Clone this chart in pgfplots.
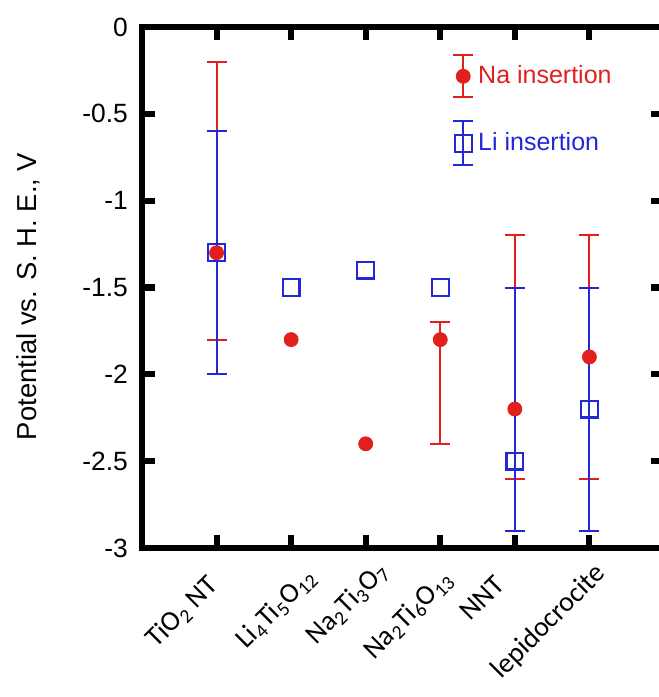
\documentclass[border=0pt]{standalone}
\usepackage{fontspec}
\setmainfont{Liberation Sans}
\newfontfamily\calfont{Carlito}
\usepackage{pgfplots}
\pgfplotsset{compat=1.18}
\definecolor{nared}{RGB}{225,32,30}
\definecolor{liblue}{RGB}{32,40,215}
% shift a tick label along (#1) and across (#2) its rotated baseline
\newcommand{\xl}[3]{\raisebox{#2}[\height][\depth]{#3}\kern-#1\relax}

% Na: x y plus minus
\pgfplotstableread{
x y ep em
1 -1.3 1.1 0.5
4 -1.8 0.1 0.6
5 -2.2 1.0 0.4
6 -1.9 0.7 0.7
}\naerr
\pgfplotstableread{
x y
2 -1.8
3 -2.4
}\naplain
\pgfplotstableread{
x y ep em
1 -1.3 0.7 0.7
5 -2.5 1.0 0.4
6 -2.2 0.7 0.7
}\lierr
\pgfplotstableread{
x y
2 -1.5
3 -1.4
4 -1.5
}\liplain

\begin{document}
\begin{tikzpicture}
\begin{axis}[
  at={(0,0)}, anchor=south west,
  scale only axis, width=261pt, height=260.5pt,
  xmin=0, xmax=7, ymin=-3, ymax=0,
  clip=false,
  axis line style={line width=2.6pt},
  tick style={line width=3pt, black},
  major tick length=6.5pt,
  tick align=inside,
  xtick pos=both, ytick pos=both,
  xtick={1,2,3,4,5,6},
  xticklabels={\xl{-5.6pt}{6.1pt}{TiO\textsubscript{2} NT},
    \xl{5.6pt}{0.5pt}{Li\textsubscript{4}Ti\textsubscript{5}O\textsubscript{12}},
    \xl{7pt}{3.5pt}{Na\textsubscript{2}Ti\textsubscript{3}O\textsubscript{7}},
    \xl{0.8pt}{4.4pt}{Na\textsubscript{2}Ti\textsubscript{6}O\textsubscript{13}},
    \xl{-9.4pt}{9.4pt}{NNT},
    \xl{4pt}{5.1pt}{lepidocrocite}},
  xticklabel style={font=\calfont\fontsize{14}{16}\selectfont, xshift=2.5pt, yshift=-8pt, rotate=45, anchor=north east},
  ytick={-3,-2.5,-2,-1.5,-1,-0.5,0},
  yticklabels={-3,-2.5,-2,-1.5,-1,-0.5,0},
  yticklabel style={font=\fontsize{13.2}{15}\selectfont, xshift=-3.5pt},
  every axis y label/.style={at={(axis description cs:-0.218,0.483)}, rotate=90, anchor=center},
  ylabel={Potential vs. S. H. E., V},
  ylabel style={font=\fontsize{13.7}{16}\selectfont},
  error bars/y dir=both, error bars/y explicit,
  legend style={draw=none, fill=none, at={(axis cs:4.155,-0.155)}, anchor=north west,
    inner sep=0pt, row sep=11pt, font=\fontsize{12.5}{15}\selectfont,
    /tikz/every even column/.append style={column sep=1pt}},
  legend cell align=left,
]
\addplot[only marks, nared, mark=*, mark size=3.5pt,
  error bars/error bar style={line width=1pt},
  error bars/error mark options={rotate=90, mark size=5pt, line width=1pt},
  legend image code/.code={
    \draw[line width=1pt, mark=none] (0pt,-10.5pt) -- (0pt,10.5pt)
      (-5pt,-10.5pt) -- (5pt,-10.5pt) (-5pt,10.5pt) -- (5pt,10.5pt);
    \draw[mark=*, mark size=3.5pt] plot coordinates {(0pt,0pt)};
  }]
  table[x=x, y=y, y error plus=ep, y error minus=em] {\naerr};
\addlegendentry{\textcolor{nared}{Na insertion}}
\addplot[only marks, nared, mark=*, mark size=3.5pt, forget plot,
  error bars/y dir=none]
  table[x=x, y=y] {\naplain};
\addplot[only marks, liblue, mark=square, mark size=4.2pt, mark options={line width=1.1pt},
  error bars/error bar style={line width=1pt},
  error bars/error mark options={rotate=90, mark size=5pt, line width=1pt},
  legend image code/.code={
    \draw[line width=1pt, mark=none] (0pt,-11pt) -- (0pt,11pt)
      (-5pt,-11pt) -- (5pt,-11pt) (-5pt,11pt) -- (5pt,11pt);
    \draw[mark=square, mark size=4.2pt, mark options={line width=1.1pt}] plot coordinates {(0pt,0pt)};
  }]
  table[x=x, y=y, y error plus=ep, y error minus=em] {\lierr};
\addlegendentry{\textcolor{liblue}{Li insertion}}
\addplot[only marks, liblue, mark=square, mark size=4.2pt, mark options={line width=1.1pt}, forget plot,
  error bars/y dir=none]
  table[x=x, y=y] {\liplain};
\end{axis}
% inward tick marks on all four sides, drawn again outside the axis scope
\foreach \i in {1,...,6} {
  \draw[line width=3pt] ({\i*261pt/7}, 0pt) -- ++(0pt, 6.5pt);
  \draw[line width=3pt] ({\i*261pt/7}, 260.5pt) -- ++(0pt, -6.5pt);
}
\foreach \j in {1,...,5} {
  \draw[line width=3pt] (0pt, {\j*260.5pt/6}) -- ++(6.5pt, 0pt);
  \draw[line width=3pt] (261pt, {\j*260.5pt/6}) -- ++(-6.5pt, 0pt);
}
\pgfresetboundingbox
\useasboundingbox (-71pt,-74.5pt) rectangle (258.5pt,274pt);
\end{tikzpicture}
\end{document}
